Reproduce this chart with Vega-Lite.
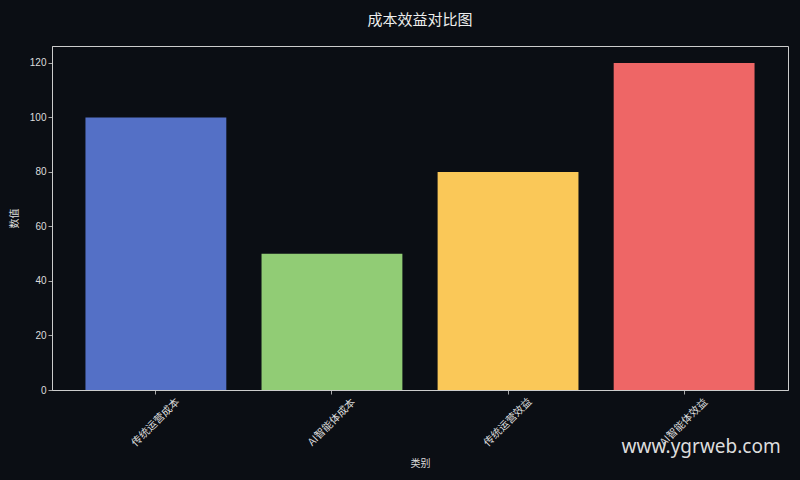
{
  "$schema": "https://vega.github.io/schema/vega-lite/v6.json",
  "width": 736,
  "height": 344,
  "autosize": "none",
  "padding": {"left": 52, "top": 46, "right": 12, "bottom": 90},
  "background": "#0b0e14",
  "config": {
    "view": {"stroke": "#cccccc", "strokeWidth": 1},
    "font": "Noto Sans CJK SC",
    "axis": {
      "domainColor": "#cccccc",
      "tickColor": "#aaaaaa",
      "tickSize": 4,
      "labelColor": "#dddddd",
      "titleColor": "#dddddd",
      "labelFontSize": 10,
      "titleFontSize": 10,
      "titleFontWeight": "normal",
      "grid": false
    }
  },
  "title": {
    "text": "成本效益对比图",
    "color": "#eeeeee",
    "fontSize": 15,
    "fontWeight": "normal",
    "offset": 18
  },
  "layer": [
    {
      "data": {
        "values": [
          {"category": "传统运营成本", "value": 100},
          {"category": "AI智能体成本", "value": 50},
          {"category": "传统运营效益", "value": 80},
          {"category": "AI智能体效益", "value": 120}
        ]
      },
      "mark": {"type": "bar"},
      "encoding": {
        "x": {
          "field": "category",
          "type": "nominal",
          "sort": ["传统运营成本", "AI智能体成本", "传统运营效益", "AI智能体效益"],
          "title": "类别",
          "scale": {"paddingInner": 0.2, "paddingOuter": 0.19},
          "axis": {"labelAngle": -45, "labelAlign": "center", "labelBaseline": "middle", "labelPadding": 28, "labelFontSize": 10.5, "titlePadding": 10}
        },
        "y": {
          "field": "value",
          "type": "quantitative",
          "title": "数值",
          "scale": {"domain": [0, 126.2], "nice": false},
          "axis": {"values": [0, 20, 40, 60, 80, 100, 120], "titlePadding": 10, "labelFont": "Liberation Sans"}
        },
        "color": {
          "field": "category",
          "type": "nominal",
          "sort": ["传统运营成本", "AI智能体成本", "传统运营效益", "AI智能体效益"],
          "scale": {"range": ["#5470c6", "#91cc75", "#fac858", "#ee6666"]},
          "legend": null
        }
      }
    },
    {
      "data": {"values": [{"category": "AI智能体效益", "pos": -21, "label": "www.ygrweb.com"}]},
      "mark": {"type": "text", "fontSize": 19, "font": "Noto Sans", "color": "#dddddd", "align": "center", "baseline": "middle", "dx": 17, "clip": false},
      "encoding": {
        "x": {"field": "category", "type": "nominal", "sort": ["传统运营成本", "AI智能体成本", "传统运营效益", "AI智能体效益"]},
        "y": {"field": "pos", "type": "quantitative"},
        "text": {"field": "label"}
      }
    }
  ]
}
